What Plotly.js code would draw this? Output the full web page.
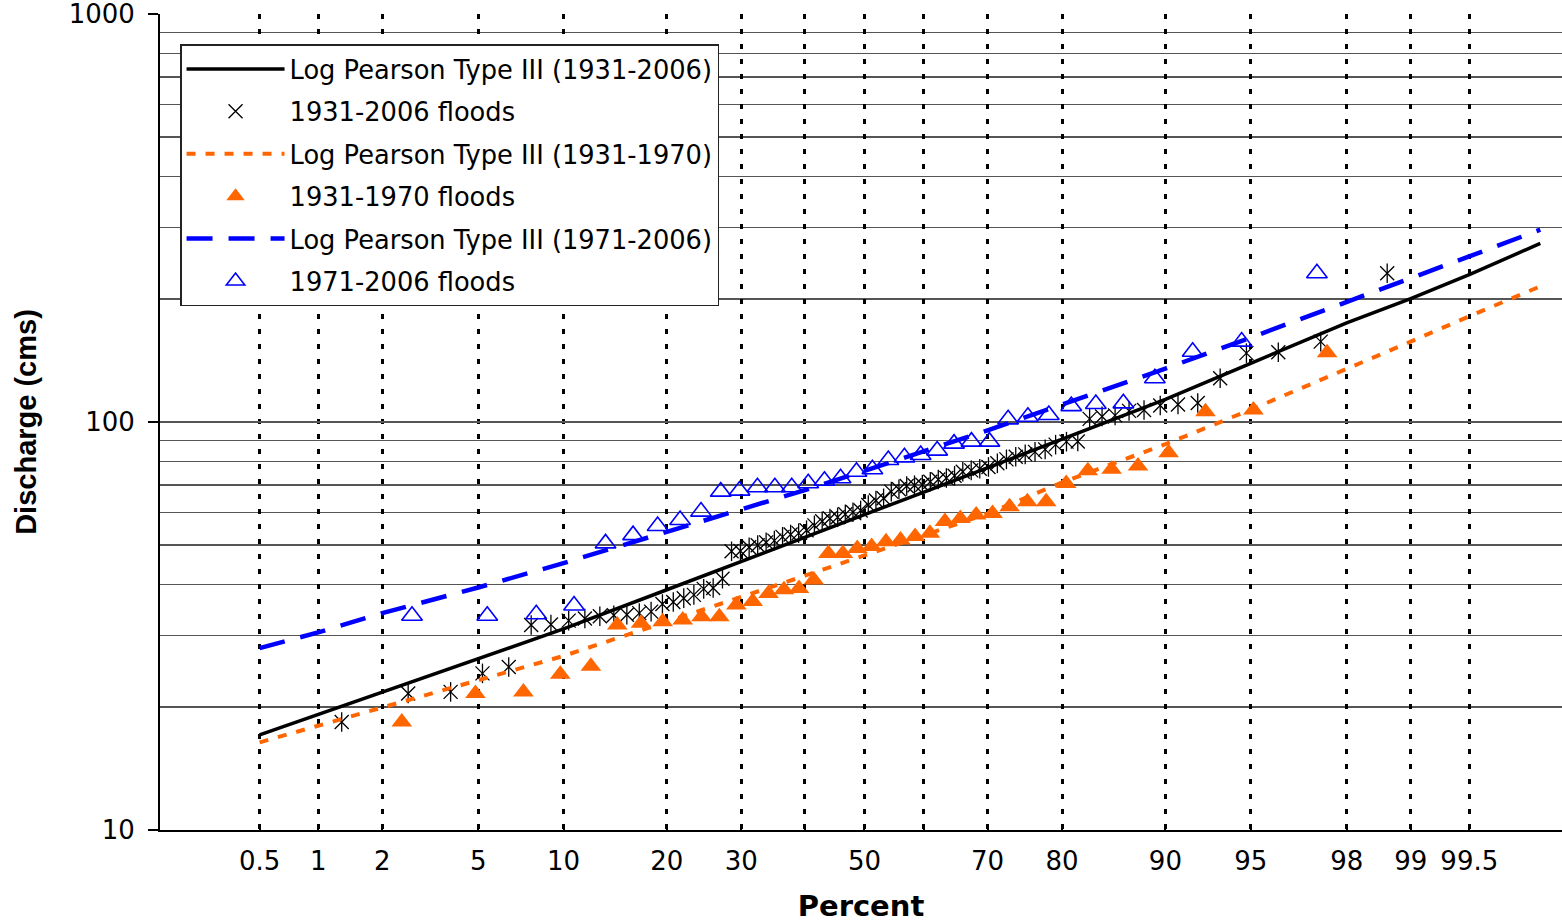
<!DOCTYPE html>
<html><head><meta charset="utf-8">
<script src="https://cdn.plot.ly/plotly-3.0.1.min.js"></script>
<style>html,body{margin:0;padding:0;background:#fff}#chart{width:1562px;height:924px}</style>
</head><body><div id="chart"></div>
<script>
// Fitted Log Pearson Type III curves (percent non-exceedance, discharge cms)
const linePercent = [0.5, 1, 2, 5, 10, 20, 30, 40, 50, 60, 70, 80, 90, 95, 98, 99, 99.5, 99.8];
const lp3All   = [17.1, 19.2, 21.8, 26.3, 31.1, 38.8, 45.6, 52.3, 59.3, 67.3, 77.3, 90.6, 113.6, 139.3, 175.0, 200.5, 229.6, 274.0];
const lp3Early = [16.4, 18.0, 20.0, 23.3, 26.7, 32.4, 37.2, 42.0, 47.1, 52.9, 59.6, 71.1, 88.2, 107.2, 134.6, 157.4, 181.6, 215.0];
const lp3Late  = [27.9, 30.5, 34.0, 39.3, 45.1, 53.7, 61.0, 68.1, 75.9, 84.7, 95.4, 110.4, 135.2, 161.0, 196.5, 225.0, 254.6, 296.0];

// Observed floods, plotting positions (percent) and discharges (cms)
const floodsAllPercent = [1.30, 2.60, 3.90, 5.19, 6.49, 7.79, 9.09, 10.39, 11.69, 12.99, 14.29, 15.58, 16.88, 18.18, 19.48, 20.78, 22.08, 23.38, 24.68, 25.97, 27.27, 28.57, 29.87, 31.17, 32.47, 33.77, 35.06, 36.36, 37.66, 38.96, 40.26, 41.56, 42.86, 44.16, 45.45, 46.75, 48.05, 49.35, 50.65, 51.95, 53.25, 54.55, 55.84, 57.14, 58.44, 59.74, 61.04, 62.34, 63.64, 64.94, 66.23, 67.53, 68.83, 70.13, 71.43, 72.73, 74.03, 75.32, 76.62, 77.92, 79.22, 80.52, 81.82, 83.12, 84.42, 85.71, 87.01, 88.31, 89.61, 90.91, 92.21, 93.51, 94.81, 96.10, 97.40, 98.70];
const floodsAll = [18.4, 21.6, 21.8, 24.2, 25.1, 31.8, 31.9, 32.6, 33.0, 33.4, 33.6, 33.7, 34.0, 34.3, 35.8, 36.2, 37.0, 37.7, 39.0, 39.2, 41.3, 48.2, 48.3, 49.3, 49.9, 50.7, 51.2, 52.3, 53.0, 53.4, 54.3, 55.8, 57.1, 58.0, 58.4, 59.4, 60.1, 60.7, 62.6, 64.2, 65.0, 67.5, 68.4, 69.7, 70.0, 70.2, 71.4, 72.3, 72.9, 73.8, 75.5, 76.1, 76.8, 77.6, 79.2, 81.0, 82.2, 83.3, 84.5, 85.7, 88.0, 89.5, 89.6, 101.8, 103.2, 103.8, 106.5, 107.0, 109.8, 110.4, 111.3, 128.0, 147.5, 148.2, 157.4, 231.5];

const floodsEarlyPercent = [2.44, 4.88, 7.32, 9.76, 12.20, 14.63, 17.07, 19.51, 21.95, 24.39, 26.83, 29.27, 31.71, 34.15, 36.59, 39.02, 41.46, 43.90, 46.34, 48.78, 51.22, 53.66, 56.10, 58.54, 60.98, 63.41, 65.85, 68.29, 70.73, 73.17, 75.61, 78.05, 80.49, 82.93, 85.37, 87.80, 90.24, 92.68, 95.12, 97.56];
const floodsEarly = [18.4, 21.6, 21.8, 24.1, 25.2, 31.8, 32.1, 32.4, 32.7, 33.3, 33.3, 35.6, 36.3, 38.0, 38.8, 39.1, 41.0, 47.6, 47.6, 49.0, 49.5, 50.9, 51.4, 52.4, 53.4, 57.0, 58.0, 59.2, 59.7, 62.0, 63.8, 63.8, 70.7, 76.0, 76.6, 78.0, 84.1, 105.9, 107.0, 147.9];

const floodsLatePercent = [2.70, 5.41, 8.11, 10.81, 13.51, 16.22, 18.92, 21.62, 24.32, 27.03, 29.73, 32.43, 35.14, 37.84, 40.54, 43.24, 45.95, 48.65, 51.35, 54.05, 56.76, 59.46, 62.16, 64.86, 67.57, 70.27, 72.97, 75.68, 78.38, 81.08, 83.78, 86.49, 89.19, 91.89, 94.59, 97.30];
const floodsLate = [33.5, 33.5, 33.8, 35.5, 50.4, 52.8, 55.6, 57.5, 60.3, 67.5, 67.9, 69.2, 69.2, 69.2, 70.8, 71.8, 72.8, 75.5, 76.6, 80.7, 81.9, 83.0, 85.1, 88.5, 89.5, 89.5, 101.5, 103.0, 104.0, 109.4, 110.7, 111.1, 128.0, 148.6, 157.4, 231.5];

// Axis ticks
const tickPercent = [0.5, 1, 2, 5, 10, 20, 30, 40, 50, 60, 70, 80, 90, 95, 98, 99, 99.5];
const tickText = ['0.5', '1', '2', '5', '10', '20', '30', '', '50', '', '70', '80', '90', '95', '98', '99', '99.5'];
const yMajor = [10, 100, 1000];
const yMajorText = ['10', '100', '1000'];
const yMinor = [20, 30, 40, 50, 60, 70, 80, 90, 200, 300, 400, 500, 600, 700, 800, 900];

// Normal probability scale: percent -> standard normal quantile (Acklam)
function probit(p) {
  const a = [-3.969683028665376e+01, 2.209460984245205e+02, -2.759285104469687e+02, 1.383577518672690e+02, -3.066479806614716e+01, 2.506628277459239e+00];
  const b = [-5.447609879822406e+01, 1.615858368580409e+02, -1.556989798598866e+02, 6.680131188771972e+01, -1.328068155288572e+01];
  const c = [-7.784894002430293e-03, -3.223964580411365e-01, -2.400758277161838e+00, -2.549671010233262e+00, 4.374664141464968e+00, 2.938163982698783e+00];
  const d = [7.784695709041462e-03, 3.224671290700398e-01, 2.445134137142996e+00, 3.754408661907416e+00];
  const pl = 0.02425, ph = 1 - pl;
  let q, r;
  if (p < pl) {
    q = Math.sqrt(-2 * Math.log(p));
    return (((((c[0]*q+c[1])*q+c[2])*q+c[3])*q+c[4])*q+c[5]) / ((((d[0]*q+d[1])*q+d[2])*q+d[3])*q+1);
  }
  if (p > ph) {
    q = Math.sqrt(-2 * Math.log(1 - p));
    return -(((((c[0]*q+c[1])*q+c[2])*q+c[3])*q+c[4])*q+c[5]) / ((((d[0]*q+d[1])*q+d[2])*q+d[3])*q+1);
  }
  q = p - 0.5; r = q * q;
  return (((((a[0]*r+a[1])*r+a[2])*r+a[3])*r+a[4])*r+a[5])*q / (((((b[0]*r+b[1])*r+b[2])*r+b[3])*r+b[4])*r+1);
}
const toZ = arr => arr.map(v => probit(v / 100));

const ORANGE = '#FF6600';
const BLUE = '#0000FF';

const traces = [
  { x: toZ(linePercent), y: lp3All, mode: 'lines', name: 'Log Pearson Type III (1931-2006)',
    line: { color: '#000', width: 3.5 } },
  { x: toZ(floodsAllPercent), y: floodsAll, mode: 'markers', name: '1931-2006 floods', legendgroup: 'ast',
    marker: { symbol: 'x-thin-open', size: 14, color: '#000', line: { color: '#000', width: 1.3 } } },
  { x: toZ(floodsAllPercent), y: floodsAll, mode: 'markers', name: '1931-2006 floods', legendgroup: 'ast', showlegend: false,
    marker: { symbol: 'line-ns-open', size: 14, color: '#000', line: { color: '#000', width: 1.3 } } },
  { x: toZ(linePercent), y: lp3Early, mode: 'lines', name: 'Log Pearson Type III (1931-1970)',
    line: { color: ORANGE, width: 4, dash: '9px,10px' } },
  { x: toZ(floodsEarlyPercent), y: floodsEarly, mode: 'markers', name: '1931-1970 floods',
    marker: { symbol: 'triangle-up', size: 18, color: ORANGE } },
  { x: toZ(linePercent), y: lp3Late, mode: 'lines', name: 'Log Pearson Type III (1971-2006)',
    line: { color: BLUE, width: 4.5, dash: '26px,16px' } },
  { x: toZ(floodsLatePercent), y: floodsLate, mode: 'markers', name: '1971-2006 floods',
    marker: { symbol: 'triangle-up-open', size: 18, color: BLUE, line: { color: BLUE, width: 1.6 } } }
];

const layout = {
  width: 1562, height: 924,
  margin: { l: 160, r: 0, t: 14, b: 94 },
  paper_bgcolor: '#fff', plot_bgcolor: '#fff',
  showlegend: true,
  xaxis: {
    range: [-3, 2.9706], tickmode: 'array', tickvals: toZ(tickPercent), ticktext: tickText,
    ticks: 'inside', ticklen: 6, tickwidth: 2, tickcolor: '#000',
    showgrid: true, gridcolor: '#000', gridwidth: 3, griddash: '5px,10px',
    zeroline: false, showline: true, linecolor: '#000', linewidth: 2,
    tickfont: { family: 'DejaVu Sans', size: 26, color: '#000' }, ticklabelstandoff: 7,
    ticklabeloverflow: 'allow',
    title: { text: 'Percent', font: { family: 'DejaVu Sans', size: 29, color: '#000', weight: 'bold' }, standoff: 20 }
  },
  yaxis: {
    type: 'log', range: [1, 3], tickmode: 'array', tickvals: yMajor, ticktext: yMajorText,
    ticks: 'outside', ticklen: 10, tickwidth: 1.5, tickcolor: '#000',
    showgrid: true, gridcolor: '#555', gridwidth: 1.5,
    minor: { tickmode: 'array', tickvals: yMinor, showgrid: true, gridcolor: '#555', gridwidth: 1.5, ticks: '' },
    zeroline: false, showline: true, linecolor: '#000', linewidth: 2,
    tickfont: { family: 'DejaVu Sans', size: 26, color: '#000' }, ticklabelstandoff: 8,
    ticklabeloverflow: 'allow',
    title: { text: 'Discharge (cms)', font: { family: 'Liberation Sans, Arial', size: 29, color: '#000', weight: 'bold' }, standoff: 23 }
  },
  legend: {
    x: 0.0143, y: 0.963, xanchor: 'left', yanchor: 'top',
    bgcolor: '#fff', bordercolor: '#222', borderwidth: 1.5,
    font: { family: 'DejaVu Sans', size: 25.7, color: '#000' },
    itemwidth: 98, traceorder: 'grouped', tracegroupgap: 6
  }
};

Plotly.newPlot('chart', traces, layout, { displayModeBar: false, staticPlot: true });
</script>
</body></html>
